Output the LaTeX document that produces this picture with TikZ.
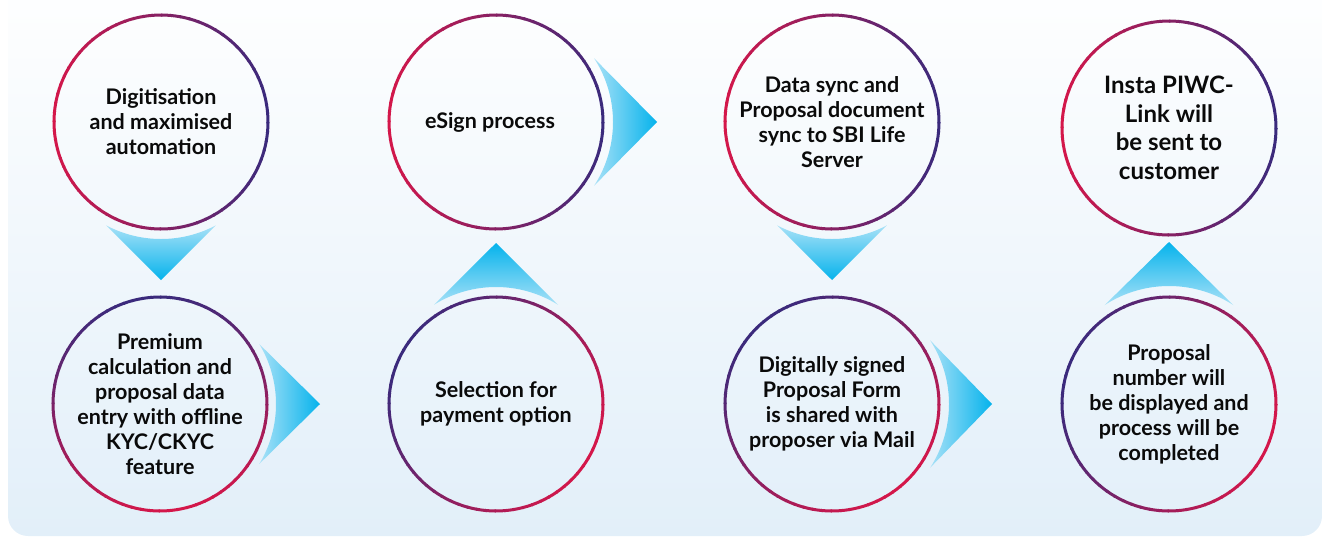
\documentclass[tikz,border=0pt]{standalone}
\usepackage{fontspec}
\setmainfont{Lato}
\usetikzlibrary{calc}
\definecolor{crim}{HTML}{D4174A}
\definecolor{indi}{HTML}{3A2A7C}
\definecolor{cyanA}{HTML}{05B3EC}
\definecolor{cyanB}{HTML}{A8E1F7}
\definecolor{bgB}{HTML}{E2EFF9}
\definecolor{txt}{HTML}{0A0A0A}
\tikzset{
  stepcircle/.style={circle, minimum size=214pt, inner sep=0pt, align=center,
    text=txt, font=\bfseries\fontsize{21.5}{25}\selectfont},
  bigtext/.style={font=\bfseries\fontsize{24}{28.5}\selectfont},
  ring/.style={line width=3pt, line cap=butt},
  downshade/.style={top color=cyanB, bottom color=cyanA},
  upshade/.style={top color=cyanA, bottom color=cyanB},
  rightshade/.style={left color=cyanB, right color=cyanA},
}
% #1 node name, #2 angle where the ring is crimson
\newcommand\gradring[2]{%
  \foreach \a in {0,5,...,355}{%
    \pgfmathsetmacro\mixv{50+50*cos(\a+2.5-#2)}%
    \draw[ring, draw=crim!\mixv!indi] (#1.center) ++(\a:107) arc[start angle=\a, end angle=\a+5.7, radius=107];
  }}
% #1 style, #2 node name, #3 direction, #4 tip distance, #5 base radius, #6 half angle
\newcommand\chevron[6]{%
  \shade[#1] ($(#2.center)+(#3:#4)$) -- ($(#2.center)+(#3+#6:#5)$)
    arc[start angle=#3+#6, end angle=#3-#6, radius=#5] -- cycle;}
\begin{document}
\begin{tikzpicture}[x=1pt, y=-1pt]
\useasboundingbox (0,0) rectangle (1324,536);
\shade[top color=white, bottom color=bgB, rounded corners=20pt] (8,-30) rectangle (1322,536);

\node[stepcircle] (c1) at (161,122) {Digitisation\\and maximised\\automation};
\node[stepcircle] (c2) at (160,404) {Premium\\calculation and\\proposal data\\entry with offline\\KYC/CKYC\\feature};
\node[stepcircle] (c3) at (496,122) {\hspace*{-12pt}eSign process};
\node[stepcircle] (c4) at (496,404) {Selection for\\payment option};
\node[stepcircle] (c5) at (832,122) {Data sync and\\Proposal document\\sync to SBI Life\\Server};
\node[stepcircle] (c6) at (832,404) {Digitally signed\\Proposal Form\\is shared with\\proposer via Mail};
\node[stepcircle, bigtext] (c7) at (1169,128) {Insta PIWC-\\Link will\\be sent to\\customer};
\node[stepcircle] (c8) at (1169,404) {Proposal\\number will\\be displayed and\\process will be\\completed};

\gradring{c1}{180}
\gradring{c3}{180}
\gradring{c5}{180}
\gradring{c7}{180}
\gradring{c2}{80}
\gradring{c4}{30}
\gradring{c6}{50}
\gradring{c8}{20}

\chevron{downshade}{c1}{90}{158}{117}{28}
\chevron{rightshade}{c2}{0}{160}{116}{31}
\chevron{upshade}{c4}{-90}{161}{117}{32}
\chevron{rightshade}{c3}{0}{161}{117}{33}
\chevron{downshade}{c5}{90}{158}{117}{28}
\chevron{rightshade}{c6}{0}{160}{117}{33}
\chevron{upshade}{c8}{-90}{162}{118}{33}
\end{tikzpicture}
\end{document}
